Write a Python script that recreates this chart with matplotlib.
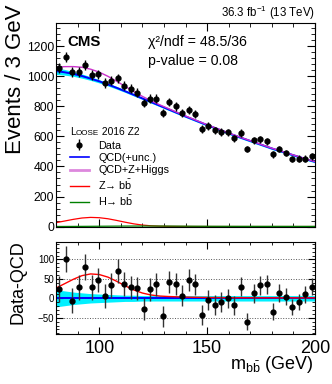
import numpy as np
import matplotlib
matplotlib.use('Agg')
import matplotlib.pyplot as plt
from matplotlib.lines import Line2D
from matplotlib.ticker import MultipleLocator

plt.rcParams['font.family'] = ['Liberation Sans', 'DejaVu Sans']
plt.rcParams['mathtext.fontset'] = 'custom'
plt.rcParams['mathtext.rm'] = 'Liberation Sans'
plt.rcParams['mathtext.it'] = 'Liberation Sans:italic'

# bin centres (3 GeV bins) and data
bin_centres = np.arange(81.5, 200, 3.0)
data = [1056, 1129, 1027, 1031, 1073, 1009, 1013, 956, 971, 987,
        938, 918, 891, 822, 851, 851, 756, 829, 800, 756,
        778, 749, 649, 671, 640, 631, 627, 587, 622, 516,
        573, 582, 567, 480, 516, 489, 449, 453, 453, 467]
resid = [24, 102, -6, 28, 81, 28, 47, 6, 33, 70,
         36, 28, 26, -28, 23, 36, -46, 42, 37, 7,
         47, 36, -43, -5, -18, -10, 0, -18, 30, -60,
         13, 33, 36, -35, 13, 4, -23, -9, 10, 30]

# fitted curves
curve_x = [80, 84, 88, 92, 96, 100, 104, 108, 112, 116, 120, 124, 128, 132, 136, 140,
           144, 148, 152, 156, 160, 164, 168, 172, 176, 180, 184, 188, 192, 196, 200]
qcd = [1035, 1027, 1016, 1002, 985, 967, 946, 924, 901, 877, 853, 829, 805, 781, 757, 733,
       710, 687, 665, 643, 621, 600, 580, 560, 540, 520, 502, 484, 466, 448, 431]
qcd_unc = [22, 19, 16, 14, 12, 11, 10, 9, 8, 8, 7, 7, 7, 7, 7, 7,
           7, 7, 7, 7, 7, 7, 7, 7, 7, 7, 7, 7, 7, 7, 7]
zbb = [26, 37, 48, 57, 61, 59, 52, 41, 29, 18, 10, 5, 2.5, 1.5, 1, 0.6,
       0.4, 0.3, 0.2, 0.1, 0.1, 0, 0, 0, 0, 0, 0, 0, 0, 0, 0]
hbb = [0.5, 0.7, 1.0, 1.3, 1.7, 2.1, 2.5, 2.9, 3.2, 3.4, 3.5, 3.5, 3.3, 3.1, 2.8, 2.5,
       2.2, 2.0, 1.8, 1.7, 1.6, 1.5, 1.4, 1.4, 1.3, 1.3, 1.3, 1.2, 1.2, 1.2, 1.2]

cx = np.array(curve_x)
qcd = np.array(qcd)
unc = np.array(qcd_unc)
zbb = np.array(zbb)
hbb = np.array(hbb)
data = np.array(data)
err = np.sqrt(data)

fig = plt.figure(figsize=(3.32, 3.84), dpi=100)
ax = fig.add_axes([0.169, 0.410, 0.780, 0.530])
ax2 = fig.add_axes([0.169, 0.130, 0.780, 0.240])

# top panel
ax.fill_between(cx, qcd - unc, qcd + unc, color='#00f0ff', lw=0)
ax.plot(cx, qcd, color='blue', lw=1.4)
ax.plot(cx, qcd + zbb + hbb, color='#cc33cc', lw=1.0)
ax.plot(cx, zbb, color='red', lw=0.9)
ax.plot(cx, hbb, color='green', lw=0.9)
eb = ax.errorbar(bin_centres, data, yerr=err, fmt='o', color='black', ms=3.5,
                 elinewidth=1.0, capsize=0)

ax.set_xlim(80, 200)
ax.set_ylim(0, 1355)
ax.yaxis.set_major_locator(MultipleLocator(200))
ax.yaxis.set_minor_locator(MultipleLocator(40))
ax.xaxis.set_major_locator(MultipleLocator(50))
ax.xaxis.set_minor_locator(MultipleLocator(10))
ax.tick_params(which='both', direction='in', top=True, right=True, labelsize=8.8, pad=1.5)
ax.tick_params(which='major', length=6)
ax.tick_params(which='minor', length=3)
ax.tick_params(axis='x', labelbottom=False)

ax.text(-0.155, 1.09, 'Events / 3 GeV', rotation=90, ha='center', va='top',
        fontsize=16, transform=ax.transAxes)
ax.text(0.042, 0.907, 'CMS', fontsize=10.8, fontweight='bold', va='center',
        transform=ax.transAxes)
ax.text(0.355, 0.905, 'χ²/ndf = 48.5/36', fontsize=10.2, va='center', transform=ax.transAxes)
ax.text(0.355, 0.815, 'p-value = 0.08', fontsize=10.2, va='center', transform=ax.transAxes)
fig.text(0.950, 1 - 13 / 384, '36.3 fb$^{-1}$ (13 TeV)', ha='right', va='center', fontsize=8.3)

# legend title in small caps
t1 = ax.text(0.054, 0.438, 'L', fontsize=7.4, va='bottom', transform=ax.transAxes)
t2 = ax.annotate('OOSE', xy=(1, 0), xycoords=t1, fontsize=5.8, va='bottom')
ax.annotate(' 2016 Z2', xy=(1, 0), xycoords=t2, fontsize=7.4, va='bottom')

handles = [eb,
           Line2D([], [], color='blue', lw=1.2),
           Line2D([], [], color='#dd88dd', lw=2.0),
           Line2D([], [], color='red', lw=1.0),
           Line2D([], [], color='green', lw=1.0)]
labels = ['Data', 'QCD(+unc.)', 'QCD+Z+Higgs', 'Z→ b$\\bar{\\rm b}$', 'H→ b$\\bar{\\rm b}$']
ax.legend(handles, labels, loc='upper left', bbox_to_anchor=(0.05, 0.428), frameon=False,
          fontsize=7.8, labelspacing=0.22, handlelength=1.7, handletextpad=0.9,
          borderaxespad=0, borderpad=0.1)

# bottom panel
ax2.fill_between(cx, -unc, unc, color='#00f0ff', lw=0)
ax2.axhline(0, color='blue', lw=1.4)
ax2.plot(cx, zbb + hbb, color='red', lw=1.0)
ax2.errorbar(bin_centres, resid, yerr=err, fmt='o', color='black', ecolor='#333333',
             ms=3.5, elinewidth=1.0, capsize=0)
ax2.set_xlim(80, 200)
ax2.set_ylim(-92, 145)
ax2.yaxis.set_major_locator(MultipleLocator(50))
ax2.yaxis.set_minor_locator(MultipleLocator(10))
ax2.xaxis.set_major_locator(MultipleLocator(50))
ax2.xaxis.set_minor_locator(MultipleLocator(10))
ax2.yaxis.grid(True, which='major', linestyle=':', color='#555555', lw=0.7)
ax2.tick_params(which='both', direction='in', top=True, right=True)
ax2.tick_params(which='major', length=5)
ax2.tick_params(which='minor', length=2.5)
ax2.tick_params(axis='y', labelsize=7, pad=1.5)
ax2.tick_params(axis='x', labelsize=13, pad=4)

ax2.text(-0.147, 1.02, 'Data-QCD', rotation=90, ha='center', va='top',
         fontsize=13, transform=ax2.transAxes)
fig.text(0.945, 1 - 369 / 384, 'm$_{\\mathrm{b\\bar{b}}}$ (GeV)', ha='right', va='baseline',
         fontsize=13)

fig.savefig('out.png', dpi=100)
